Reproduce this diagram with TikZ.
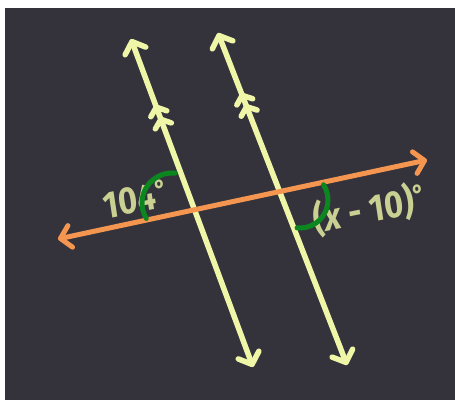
\documentclass[tikz,border=0pt]{standalone}
\usepackage{fontspec}
\setmainfont{Fira Sans}
\usepackage{xcolor}
\usetikzlibrary{arrows.meta, decorations.markings}

\definecolor{board}{RGB}{52,51,60}
\definecolor{chalkyellow}{RGB}{240,246,168}
\definecolor{chalkorange}{RGB}{245,150,80}
\definecolor{chalkgreen}{RGB}{12,135,32}
\definecolor{chalktext}{RGB}{202,208,145}

\begin{document}
\begin{tikzpicture}[
      x=1pt, y=1pt,
      >={Straight Barb[length=10pt, width=22pt, round]},
      yline/.style={draw=chalkyellow, line width=5.5pt, line cap=round, <->},
      tline/.style={draw=chalkorange, line width=5pt, line cap=round, <->},
      anglearc/.style={draw=chalkgreen, line width=5pt, line cap=round},
      chalk/.style={text=chalktext, font=\fontsize{38}{40}\selectfont\bfseries, inner sep=0pt, xscale=0.86},
      parmark/.style={postaction={decorate, decoration={markings,
          mark=at position #1 with {\arrow[chalkyellow]{Straight Barb[length=7pt, width=17pt, round]}}}}}
    ]
    % board
    \useasboundingbox (0,0) rectangle (455,400);
    \fill[white] (0,0) rectangle (455,400);
    \fill[board] (5,0) rectangle (455,392);

    \coordinate (p1top) at (131,361);
    \coordinate (p1bot) at (253,33);
    \coordinate (p2top) at (218,367);
    \coordinate (p2bot) at (347,35);
    \coordinate (tleft) at (58,161);
    \coordinate (tright) at (427,240);

    % labels under the chalk marks
    \node[chalk, rotate=10] (ang1) at (136,201) {104\textsuperscript{°}};
    \node[chalk, rotate=10] (ang2) at (370,191) {(\textit{x} - 10)\textsuperscript{°}};

    % parallel lines
    \draw[yline, parmark=0.8, parmark=0.763] (p1bot) -- (p1top);
    \draw[yline, parmark=0.82, parmark=0.786] (p2bot) -- (p2top);

    % transversal
    \draw[tline] (tleft) -- (tright);

    % angles
    \coordinate (c1) at (172,197);
    \coordinate (c2) at (300,200);
    \draw[anglearc] (c1) ++(84:30) arc[start angle=84, end angle=211, radius=30];
    \draw[anglearc] (c2) ++(33:28) arc[start angle=33, end angle=-96, radius=28];
  \end{tikzpicture}
\end{document}
